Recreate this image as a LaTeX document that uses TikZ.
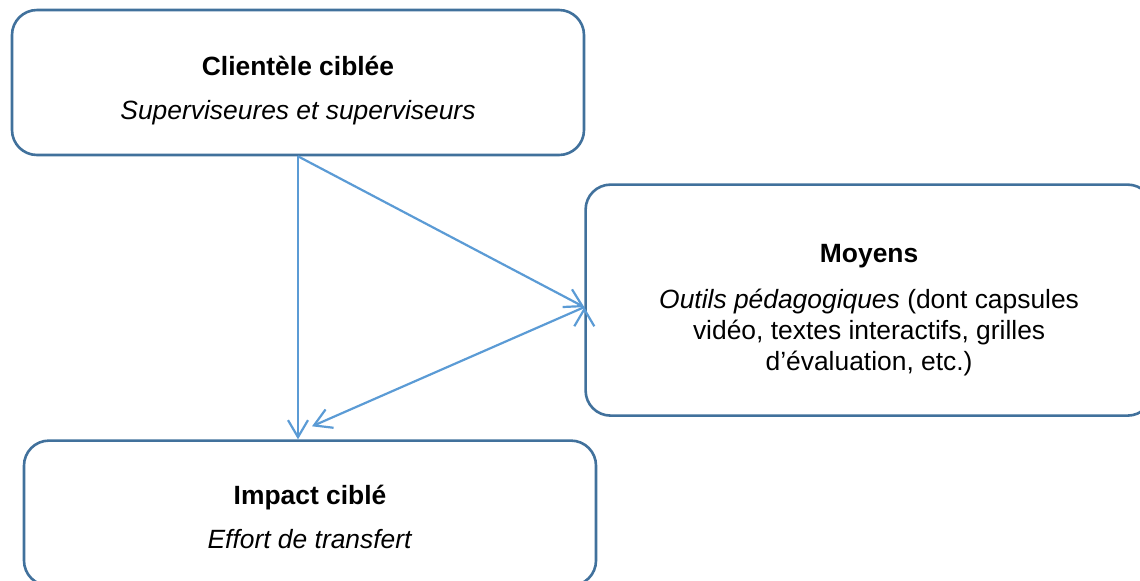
\documentclass[tikz,border=0pt]{standalone}
\usepackage{fontspec}
\setmainfont{Liberation Sans}
\usetikzlibrary{positioning, arrows.meta}
\definecolor{boxblue}{RGB}{65,113,156}
\definecolor{flowblue}{RGB}{91,155,213}
\tikzset{->,>={Straight Barb[length=8.5pt,width=10pt]},
every box/.style={draw=boxblue, line width=1.3pt, rounded corners=12.5pt, fill=white, align=center},
box/.style={every box, minimum width=286pt, minimum height=72.5pt, font=\fontsize{13.2}{15}\selectfont},
tallbox/.style={every box, minimum width=283.5pt, minimum height=115.5pt, font=\fontsize{13.2}{15.5}\selectfont},
flow/.style={draw=flowblue, line width=1.1pt},
}
\newcommand{\headstrut}[1]{\rule{0pt}{#1}}

\begin{document}
\begin{tikzpicture}[x=0.5pt, y=0.5pt]
    \path[use as bounding box, clip] (0,0) rectangle (1140,-580);
    \node[box] (c) at (298,-82.5) {\headstrut{18pt}\textbf{Clientèle ciblée}\\[7pt]\textit{Superviseures et superviseurs}};
    \node[tallbox, below right=13.5pt and -0.5pt of c.south east, anchor=north west] (m)
        {\headstrut{19pt}\textbf{Moyens}\\[7.5pt]\textit{Outils pédagogiques} (dont capsules\\vidéo, textes interactifs, grilles\\d’évaluation, etc.)};
    \node[box, below=141.5pt of c, xshift=6pt] (i) {\headstrut{14pt}\textbf{Impact ciblé}\\[7pt]\textit{Effort de transfert}};
    \coordinate[above=6.5pt of i.north, xshift=1pt] (itip);
    \draw[flow]
    (c.south) edge (c.south |- i.north)
    (c.south) edge ([yshift=-3.5pt]m.west)
    ([yshift=-3.5pt]m.west) edge (itip)
    ;
\end{tikzpicture}
\end{document}
